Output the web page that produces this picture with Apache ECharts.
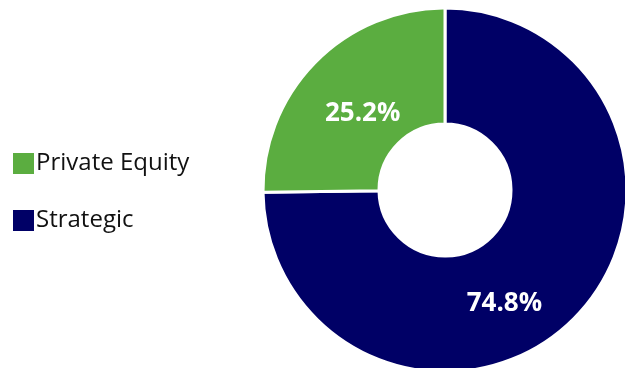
<!DOCTYPE html>
<html><head><meta charset="utf-8">
<script src="https://cdn.jsdelivr.net/npm/echarts@6/dist/echarts.min.js"></script>
<style>html,body{margin:0;padding:0;background:#fff}#c{width:625px;height:368px}</style>
</head><body><div id="c"></div>
<script>
var categories = ['Strategic', 'Private Equity'];
var values = [74.8, 25.2];
var colors = ['#000066', '#5BAD40'];
var legendOrder = ['Private Equity', 'Strategic'];
var labelOffsets = [[-31, 24], [8, 13]];

var chart = echarts.init(document.getElementById('c'), null, {renderer: 'canvas'});
chart.setOption({
  animation: false,
  legend: {
    data: legendOrder,
    orient: 'vertical',
    left: 6,
    top: 146,
    itemWidth: 23,
    itemHeight: 23,
    itemGap: 32,
    icon: 'rect',
    textStyle: {fontFamily: 'Open Sans', fontSize: 24, color: '#111', padding: [0,0,0,-4]}
  },
  series: [{
    type: 'pie',
    center: [445, 190],
    radius: [66, 182],
    startAngle: 90,
    clockwise: true,
    itemStyle: {borderColor: '#fff', borderWidth: 3},
    label: {
      show: true, position: 'inside',
      formatter: function(p){ return p.value.toFixed(1) + '%'; },
      color: '#fff', fontFamily: 'Open Sans', fontWeight: 'bold', fontSize: 26
    },
    labelLine: {show: false},
    data: categories.map(function(c, i){
      return {name: c, value: values[i], itemStyle: {color: colors[i]}, label: {offset: labelOffsets[i]}};
    })
  }]
});
</script></body></html>
